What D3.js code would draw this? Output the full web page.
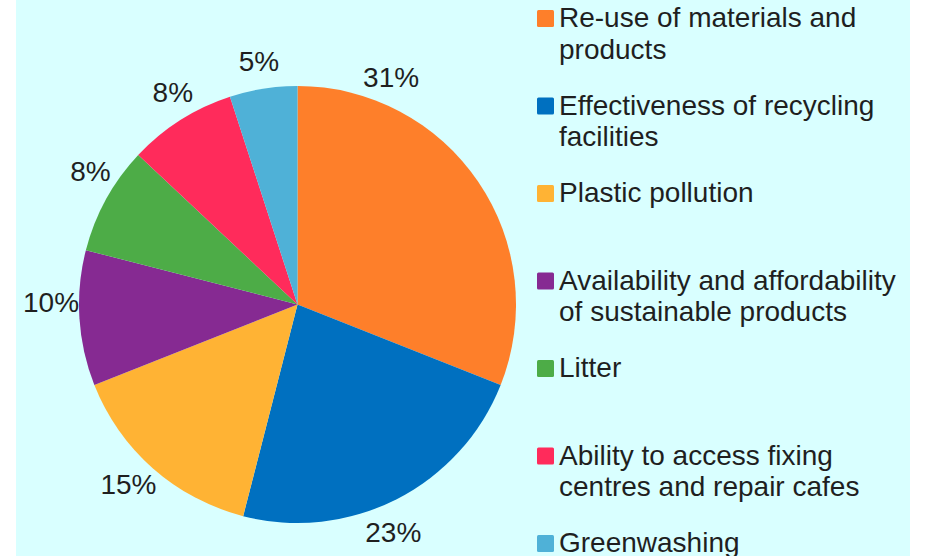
<!DOCTYPE html>
<html>
<head>
<meta charset="utf-8">
<script src="https://cdn.jsdelivr.net/npm/d3@7"></script>
<style>
  html, body { margin: 0; padding: 0; background: #ffffff; }
  svg { display: block; }
  text { font-family: "Liberation Sans", Arial, sans-serif; fill: #1f1f1f; }
</style>
</head>
<body>
<svg id="chart" width="927" height="556"></svg>
<script>
const categories = [
  "Re-use of materials and products",
  "Effectiveness of recycling facilities",
  "Plastic pollution",
  "Availability and affordability of sustainable products",
  "Litter",
  "Ability to access fixing centres and repair cafes",
  "Greenwashing"
];
const values = [31, 23, 15, 10, 8, 8, 5];
const colors = ["#FE7F2A", "#0070C0", "#FFB334", "#862A92", "#4DAC47", "#FF2B5B", "#4FB1D7"];
// fraction along each slice where its percentage label sits (0.5 = middle)
const labelFrac = [0.2, 0.55, 0.535, 0.615, 0.64, 0.57, 0.5];

const W = 927, H = 556;
const svg = d3.select("#chart");

svg.append("rect").attr("x", 16).attr("y", 0).attr("width", 894).attr("height", H).attr("fill", "#D9FFFF");

const cx = 297.5, cy = 304.5, R = 218.5;
const pie = d3.pie().sort(null).value(d => d.value);
const arcs = pie(values.map((v, i) => ({ value: v, i })));
const arc = d3.arc().innerRadius(0).outerRadius(R);

const g = svg.append("g").attr("transform", `translate(${cx},${cy})`);
g.selectAll("path.slice").data(arcs).join("path")
  .attr("class", "slice")
  .attr("d", arc)
  .attr("fill", d => colors[d.data.i]);

const labelR = R + 28;
const labelAngle = d => d.startAngle + (d.endAngle - d.startAngle) * labelFrac[d.data.i];
g.selectAll("text.lbl").data(arcs).join("text")
  .attr("class", "lbl")
  .attr("text-anchor", "middle")
  .attr("dy", "0.36em")
  .style("font-size", "28px")
  .attr("x", d => Math.sin(labelAngle(d)) * labelR)
  .attr("y", d => -Math.cos(labelAngle(d)) * labelR)
  .text(d => d3.format(".0f")(d.data.value) + "%");

// legend
const legX = 537, legTextX = 559, legY0 = 27, legStep = 87.5, maxW = 350, lineH = 31.5;
const legend = svg.append("g");
categories.forEach((name, i) => {
  const by = legY0 + legStep * i;
  legend.append("rect")
    .attr("x", legX).attr("y", by - 17).attr("width", 17).attr("height", 17)
    .attr("rx", 1.5).attr("fill", colors[i]);
  const t = legend.append("text").attr("x", legTextX).attr("y", by).style("font-size", "28px");
  const words = name.split(" ");
  let line = [], lineNo = 0;
  let tspan = t.append("tspan").attr("x", legTextX).attr("y", by);
  words.forEach(w => {
    line.push(w);
    tspan.text(line.join(" "));
    if (tspan.node().getComputedTextLength() > maxW && line.length > 1) {
      line.pop();
      tspan.text(line.join(" "));
      line = [w];
      lineNo++;
      tspan = t.append("tspan").attr("x", legTextX).attr("y", by + lineNo * lineH).text(w);
    }
  });
});
</script>
</body>
</html>
